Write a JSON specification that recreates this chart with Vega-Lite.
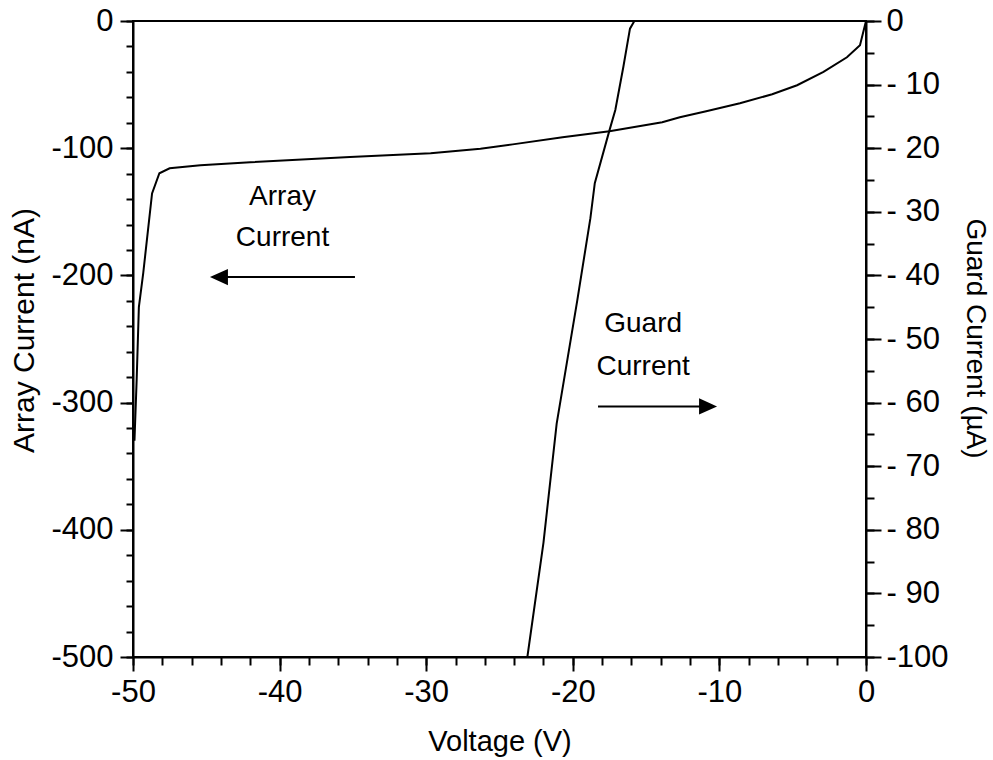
{
  "$schema": "https://vega.github.io/schema/vega-lite/v6.json",
  "width": 733,
  "height": 636,
  "autosize": "none",
  "padding": {"left": 133, "top": 21, "right": 127, "bottom": 103},
  "background": "white",
  "config": {
    "font": "Liberation Sans",
    "view": {"stroke": "black", "strokeWidth": 2},
    "axis": {
      "grid": false,
      "domainColor": "black",
      "domainWidth": 2,
      "tickColor": "black",
      "tickWidth": 2,
      "labelColor": "black",
      "titleColor": "black",
      "labelFontSize": 31,
      "titleFontSize": 29,
      "titleFontWeight": "normal",
      "labelFont": "Liberation Sans",
      "titleFont": "Liberation Sans",
      "labelFlush": false,
      "labelOverlap": false
    }
  },
  "datasets": {
    "array": [
      {"V": -49.9, "I": -330},
      {"V": -49.75, "I": -282},
      {"V": -49.6, "I": -225},
      {"V": -49.3, "I": -198},
      {"V": -48.7, "I": -135.5},
      {"V": -48.2, "I": -119.7},
      {"V": -47.5, "I": -115.8},
      {"V": -45.4, "I": -113.4},
      {"V": -42.0, "I": -111},
      {"V": -35.2, "I": -107},
      {"V": -29.7, "I": -104},
      {"V": -26.3, "I": -100.5},
      {"V": -24.1, "I": -97},
      {"V": -20.7, "I": -91.4},
      {"V": -17.5, "I": -86.6},
      {"V": -13.9, "I": -79.6},
      {"V": -12.7, "I": -75.7},
      {"V": -10.9, "I": -71},
      {"V": -8.6, "I": -64.7},
      {"V": -6.4, "I": -57.6},
      {"V": -4.7, "I": -50.5},
      {"V": -2.9, "I": -40},
      {"V": -1.3, "I": -28.5},
      {"V": -0.41, "I": -19},
      {"V": 0, "I": 0}
    ],
    "guard": [
      {"V": -23.1, "G": -100},
      {"V": -22.0, "G": -82},
      {"V": -21.1, "G": -63.3},
      {"V": -19.7, "G": -44},
      {"V": -18.8, "G": -31},
      {"V": -18.5, "G": -25.5},
      {"V": -17.5, "G": -17.2},
      {"V": -17.1, "G": -14},
      {"V": -16.55, "G": -7.2},
      {"V": -16.1, "G": -1.2},
      {"V": -15.8, "G": 0}
    ],
    "labels": [
      {"V": -39.8, "I": -144.9, "text": "Array"},
      {"V": -39.8, "I": -177.1, "text": "Current"},
      {"V": -15.2, "I": -244.7, "text": "Guard"},
      {"V": -15.2, "I": -278.5, "text": "Current"}
    ],
    "arrows": [
      {"V1": -34.86, "V2": -44.2, "I": -201.3},
      {"V1": -18.28, "V2": -10.8, "I": -303}
    ],
    "heads": [
      {"V": -44.75, "I": -201.3, "dir": "left"},
      {"V": -10.16, "I": -303, "dir": "right"}
    ]
  },
  "layer": [
    {
      "layer": [
        {
          "data": {"name": "array"},
          "mark": {"type": "line", "color": "black", "strokeWidth": 2},
          "encoding": {
            "x": {
              "field": "V", "type": "quantitative",
              "scale": {"domain": [-50, 0], "nice": false},
              "axis": {
                "orient": "bottom",
                "values": [-50, -40, -30, -20, -10, 0],
                "tickSize": 14,
                "labelPadding": 6,
                "labelExpr": "datum.value == 0 ? '0' : '-' + abs(datum.value)",
                "title": "Voltage (V)",
                "titleBaseline": "alphabetic",
                "titleY": 93
              }
            },
            "y": {
              "field": "I", "type": "quantitative",
              "scale": {"domain": [-500, 0], "nice": false},
              "axis": {
                "orient": "left",
                "values": [-500, -400, -300, -200, -100, 0],
                "tickSize": 13,
                "labelPadding": 7,
                "labelExpr": "datum.value == 0 ? '0' : '-' + abs(datum.value)",
                "title": "Array Current (nA)",
                "titleFontSize": 30,
                "titleBaseline": "middle",
                "titleX": -109,
                "titleY": 309
              }
            }
          }
        },
        {
          "data": {"name": "array"},
          "mark": {"type": "point", "opacity": 0},
          "encoding": {
            "x": {
              "field": "V", "type": "quantitative",
              "scale": {"domain": [-50, 0], "nice": false},
              "axis": {
                "orient": "bottom",
                "values": [-50, -48, -46, -44, -42, -40, -38, -36, -34, -32, -30, -28, -26, -24, -22, -20, -18, -16, -14, -12, -10, -8, -6, -4, -2, 0],
                "labels": false, "domain": false, "tickSize": 8, "title": null
              }
            },
            "y": {
              "field": "I", "type": "quantitative",
              "scale": {"domain": [-500, 0], "nice": false},
              "axis": {
                "orient": "left",
                "values": [-500, -480, -460, -440, -420, -400, -380, -360, -340, -320, -300, -280, -260, -240, -220, -200, -180, -160, -140, -120, -100, -80, -60, -40, -20, 0],
                "labels": false, "domain": false, "tickSize": 7, "title": null
              }
            }
          }
        },
        {
          "data": {"name": "labels"},
          "mark": {"type": "text", "fontSize": 28, "font": "Liberation Sans", "align": "center", "baseline": "alphabetic", "color": "black"},
          "encoding": {
            "x": {"field": "V", "type": "quantitative", "scale": {"domain": [-50, 0], "nice": false}, "axis": null},
            "y": {"field": "I", "type": "quantitative", "scale": {"domain": [-500, 0], "nice": false}, "axis": null},
            "text": {"field": "text"}
          }
        },
        {
          "data": {"name": "arrows"},
          "mark": {"type": "rule", "color": "black", "strokeWidth": 2},
          "encoding": {
            "x": {"field": "V1", "type": "quantitative", "scale": {"domain": [-50, 0], "nice": false}, "axis": null},
            "x2": {"field": "V2"},
            "y": {"field": "I", "type": "quantitative", "scale": {"domain": [-500, 0], "nice": false}, "axis": null}
          }
        },
        {
          "data": {"name": "heads"},
          "mark": {"type": "point", "filled": true, "size": 324, "color": "black", "opacity": 1},
          "encoding": {
            "x": {"field": "V", "type": "quantitative", "scale": {"domain": [-50, 0], "nice": false}, "axis": null},
            "y": {"field": "I", "type": "quantitative", "scale": {"domain": [-500, 0], "nice": false}, "axis": null},
            "shape": {
              "field": "dir", "type": "nominal",
              "scale": {"domain": ["left", "right"], "range": ["M 0 0 L 2 -0.9 L 2 0.9 Z", "M 0 0 L -2 -0.9 L -2 0.9 Z"]},
              "legend": null
            }
          }
        }
      ],
      "resolve": {"axis": {"x": "independent", "y": "independent"}}
    },
    {
      "layer": [
        {
          "data": {"name": "guard"},
          "mark": {"type": "line", "color": "black", "strokeWidth": 2},
          "encoding": {
            "x": {"field": "V", "type": "quantitative", "scale": {"domain": [-50, 0], "nice": false}, "axis": null},
            "y": {
              "field": "G", "type": "quantitative",
              "scale": {"domain": [-100, 0], "nice": false},
              "axis": {
                "orient": "right",
                "values": [-100, -90, -80, -70, -60, -50, -40, -30, -20, -10, 0],
                "tickSize": 15,
                "labelPadding": 5,
                "labelExpr": "datum.value == 0 ? '0' : (datum.value == -100 ? '-100' : '- ' + abs(datum.value))",
                "title": "Guard Current (µA)",
                "titleFontSize": 28,
                "titleBaseline": "middle",
                "titleAngle": 90,
                "titleX": 108,
                "titleY": 317
              }
            }
          }
        },
        {
          "data": {"name": "guard"},
          "mark": {"type": "point", "opacity": 0},
          "encoding": {
            "x": {"field": "V", "type": "quantitative", "scale": {"domain": [-50, 0], "nice": false}, "axis": null},
            "y": {
              "field": "G", "type": "quantitative",
              "scale": {"domain": [-100, 0], "nice": false},
              "axis": {
                "orient": "right",
                "values": [-100, -95, -90, -85, -80, -75, -70, -65, -60, -55, -50, -45, -40, -35, -30, -25, -20, -15, -10, -5, 0],
                "labels": false, "domain": false, "tickSize": 8, "title": null
              }
            }
          }
        }
      ],
      "resolve": {"axis": {"y": "independent"}}
    }
  ],
  "resolve": {"scale": {"y": "independent"}}
}
